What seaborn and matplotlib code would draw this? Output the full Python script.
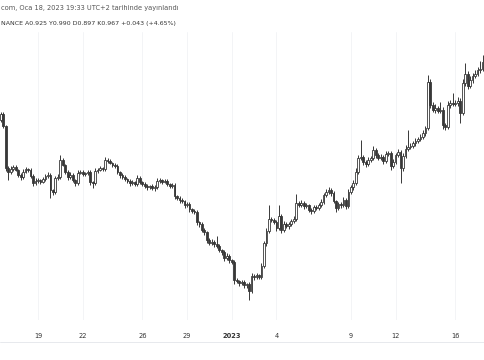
import numpy as np
import pandas as pd
import matplotlib.pyplot as plt
from matplotlib.lines import Line2D
import seaborn as sns

# 4h candles
first_open = 0.909
closes = [
    0.915, 0.903, 0.861, 0.857, 0.860, 0.862, 0.859, 0.854, 0.852, 0.857,
    0.860, 0.859, 0.853, 0.846, 0.848, 0.849, 0.847, 0.850, 0.853, 0.854,
    0.839, 0.837, 0.851, 0.852, 0.869, 0.864, 0.857, 0.852, 0.854, 0.849,
    0.846, 0.856, 0.857, 0.855, 0.856, 0.857, 0.847, 0.846, 0.858, 0.859,
    0.861, 0.860, 0.869, 0.868, 0.866, 0.864, 0.863, 0.857, 0.854, 0.852,
    0.850, 0.848, 0.846, 0.847, 0.845, 0.851, 0.847, 0.845, 0.843, 0.842,
    0.843, 0.841, 0.842, 0.848, 0.849, 0.847, 0.848, 0.845, 0.843, 0.844,
    0.833, 0.831, 0.829, 0.828, 0.824, 0.825, 0.820, 0.818, 0.817, 0.807,
    0.805, 0.799, 0.797, 0.789, 0.786, 0.787, 0.785, 0.783, 0.779, 0.777,
    0.771, 0.773, 0.769, 0.767, 0.749, 0.748, 0.746, 0.747, 0.744, 0.745,
    0.738, 0.753, 0.752, 0.754, 0.752, 0.763, 0.786, 0.798, 0.810, 0.809,
    0.807, 0.801, 0.813, 0.799, 0.805, 0.803, 0.805, 0.808, 0.810, 0.826,
    0.824, 0.826, 0.823, 0.824, 0.819, 0.818, 0.822, 0.821, 0.824, 0.827,
    0.834, 0.837, 0.839, 0.836, 0.828, 0.821, 0.825, 0.824, 0.829, 0.823,
    0.837, 0.842, 0.846, 0.857, 0.871, 0.872, 0.867, 0.865, 0.869, 0.871,
    0.879, 0.874, 0.871, 0.872, 0.868, 0.875, 0.876, 0.863, 0.867, 0.874,
    0.877, 0.861, 0.873, 0.880, 0.882, 0.883, 0.886, 0.888, 0.890, 0.892,
    0.896, 0.901, 0.947, 0.924, 0.919, 0.921, 0.918, 0.919, 0.904, 0.902,
    0.924, 0.926, 0.925, 0.926, 0.928, 0.916, 0.946, 0.955, 0.943, 0.949,
    0.953, 0.955, 0.959, 0.960, 0.967,
]
upper_wicks = [
    0.002, 0.002, 0.001, 0.002, 0.003, 0.002, 0.002, 0.001, 0.002, 0.003,
    0.002, 0.001, 0.002, 0.002, 0.003, 0.002, 0.001, 0.002, 0.002, 0.003,
    0.002, 0.001, 0.002, 0.003, 0.005, 0.002, 0.001, 0.002, 0.003, 0.002,
    0.001, 0.003, 0.002, 0.002, 0.001, 0.002, 0.002, 0.001, 0.003, 0.002,
    0.002, 0.001, 0.003, 0.002, 0.002, 0.001, 0.002, 0.002, 0.001, 0.002,
    0.002, 0.001, 0.002, 0.002, 0.001, 0.003, 0.002, 0.001, 0.002, 0.002,
    0.001, 0.002, 0.002, 0.003, 0.002, 0.001, 0.002, 0.002, 0.001, 0.002,
    0.002, 0.001, 0.002, 0.002, 0.001, 0.002, 0.002, 0.001, 0.002, 0.002,
    0.001, 0.002, 0.002, 0.001, 0.002, 0.003, 0.002, 0.008, 0.002, 0.001,
    0.002, 0.003, 0.002, 0.001, 0.002, 0.002, 0.001, 0.002, 0.002, 0.001,
    0.002, 0.003, 0.002, 0.002, 0.001, 0.003, 0.002, 0.003, 0.014, 0.002,
    0.002, 0.002, 0.011, 0.002, 0.003, 0.002, 0.002, 0.002, 0.003, 0.009,
    0.002, 0.003, 0.002, 0.002, 0.001, 0.002, 0.002, 0.002, 0.002, 0.003,
    0.002, 0.003, 0.003, 0.002, 0.002, 0.001, 0.002, 0.002, 0.003, 0.002,
    0.003, 0.002, 0.003, 0.004, 0.003, 0.017, 0.002, 0.002, 0.003, 0.002,
    0.004, 0.002, 0.002, 0.003, 0.002, 0.003, 0.002, 0.002, 0.003, 0.002,
    0.003, 0.002, 0.003, 0.004, 0.017, 0.003, 0.002, 0.003, 0.002, 0.003,
    0.003, 0.002, 0.007, 0.003, 0.003, 0.004, 0.002, 0.008, 0.003, 0.002,
    0.004, 0.003, 0.010, 0.003, 0.004, 0.003, 0.004, 0.011, 0.003, 0.004,
    0.003, 0.004, 0.003, 0.008, 0.007,
]
lower_wicks = [
    0.002, 0.002, 0.003, 0.008, 0.002, 0.002, 0.001, 0.002, 0.003, 0.002,
    0.001, 0.002, 0.002, 0.003, 0.002, 0.002, 0.002, 0.001, 0.002, 0.002,
    0.008, 0.003, 0.002, 0.002, 0.002, 0.001, 0.002, 0.003, 0.002, 0.002,
    0.003, 0.002, 0.001, 0.002, 0.002, 0.002, 0.003, 0.005, 0.002, 0.002,
    0.001, 0.002, 0.002, 0.002, 0.001, 0.002, 0.002, 0.002, 0.003, 0.002,
    0.002, 0.002, 0.003, 0.002, 0.002, 0.002, 0.002, 0.002, 0.002, 0.003,
    0.002, 0.002, 0.003, 0.002, 0.002, 0.002, 0.001, 0.002, 0.002, 0.002,
    0.003, 0.002, 0.003, 0.002, 0.003, 0.002, 0.003, 0.002, 0.002, 0.003,
    0.003, 0.002, 0.003, 0.003, 0.002, 0.002, 0.003, 0.002, 0.002, 0.003,
    0.003, 0.002, 0.003, 0.002, 0.004, 0.002, 0.003, 0.002, 0.003, 0.003,
    0.009, 0.002, 0.003, 0.002, 0.002, 0.002, 0.002, 0.003, 0.002, 0.002,
    0.002, 0.003, 0.002, 0.003, 0.002, 0.002, 0.003, 0.002, 0.002, 0.002,
    0.002, 0.002, 0.003, 0.002, 0.002, 0.003, 0.002, 0.002, 0.002, 0.002,
    0.002, 0.002, 0.002, 0.003, 0.002, 0.004, 0.002, 0.003, 0.002, 0.003,
    0.002, 0.002, 0.003, 0.002, 0.002, 0.002, 0.003, 0.003, 0.002, 0.002,
    0.002, 0.003, 0.002, 0.002, 0.003, 0.002, 0.002, 0.004, 0.002, 0.002,
    0.002, 0.015, 0.003, 0.002, 0.002, 0.002, 0.002, 0.003, 0.002, 0.002,
    0.002, 0.003, 0.002, 0.003, 0.002, 0.003, 0.002, 0.002, 0.004, 0.003,
    0.002, 0.003, 0.002, 0.002, 0.003, 0.010, 0.002, 0.003, 0.003, 0.002,
    0.003, 0.002, 0.002, 0.003, 0.002,
]
tick_days = ["2022-12-19", "2022-12-22", "2022-12-26", "2022-12-29", "2023-01-01",
             "2023-01-04", "2023-01-09", "2023-01-12", "2023-01-16"]
tick_labels = ["19", "22", "26", "29", "2023", "4", "9", "12", "16"]

header_1 = "com, Oca 18, 2023 19:33 UTC+2 tarihinde yayınlandı"
header_2 = "NANCE A0.925 Y0.990 D0.897 K0.967 +0.043 (+4.65%)"

dates = pd.date_range("2022-12-16 12:00", periods=len(closes), freq="4h")
df = pd.DataFrame({"time": dates, "close": closes})
df["open"] = [first_open] + closes[:-1]
df["high"] = df[["open", "close"]].max(axis=1) + np.array(upper_wicks)
df["low"] = df[["open", "close"]].min(axis=1) - np.array(lower_wicks)
df["idx"] = np.arange(len(df))
up = df["close"] >= df["open"]

sns.set_theme(style="white")
plt.rcParams['font.family'] = ['DejaVu Sans']

fig = plt.figure(figsize=(4.85, 3.6), dpi=100)
ax = fig.add_axes([0, 40 / 360, 1, 288 / 360])

# фитили и тела свечей
edge = '#383838'
ax.vlines(df["idx"], df["low"], df["high"], color=edge, linewidth=0.7, zorder=2)
body = (df["close"] - df["open"]).abs().clip(lower=0.001)
ax.bar(df["idx"][up], body[up], bottom=df["open"][up], width=0.72,
       color='white', edgecolor=edge, linewidth=0.6, zorder=3)
ax.bar(df["idx"][~up], body[~up], bottom=df["close"][~up], width=0.72,
       color='#383838', edgecolor=edge, linewidth=0.6, zorder=3)

ticks = [int(np.where(dates == pd.Timestamp(d))[0][0]) for d in tick_days]
ax.set_xticks(ticks)
ax.set_xticklabels(tick_labels)
for lbl in ax.get_xticklabels():
    lbl.set_fontsize(4.8)
    lbl.set_color('#333333')
    if lbl.get_text() == "2023":
        lbl.set_fontweight('bold')
ax.tick_params(axis='x', length=0, pad=9)
ax.set_yticks([])
for t in ticks:
    ax.axvline(t, color='#f1f2f5', linewidth=0.6, zorder=0)

ax.set_xlim(-0.3, 195.0)
ax.set_ylim(0.709, 0.997)
sns.despine(ax=ax, left=True, bottom=True)

fig.add_artist(Line2D([0, 1], [1 - 342 / 360] * 2, color='#e3e5ea', linewidth=0.6))
fig.text(0.002, 1 - 8 / 360, header_1, fontsize=4.8, color='#555555', va='center')
fig.text(0.002, 1 - 23 / 360, header_2, fontsize=4.5, color='#333333', va='center')

fig.savefig('out.png', dpi=100)
